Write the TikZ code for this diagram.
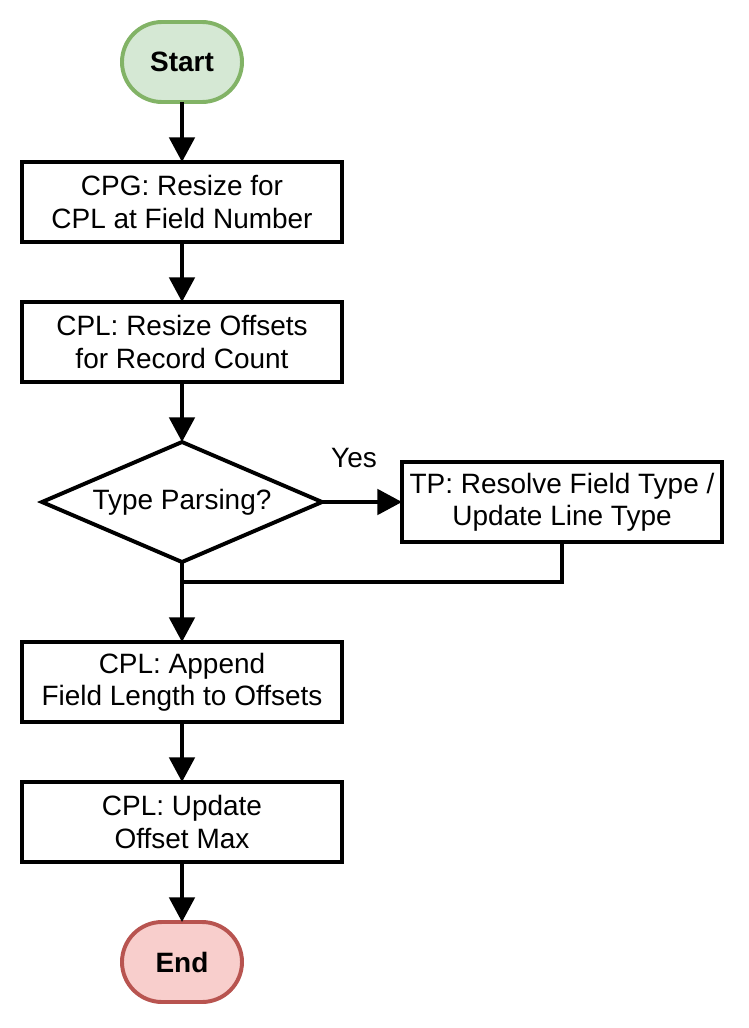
\documentclass[tikz,border=0pt]{standalone}
\usepackage{fontspec}
\setmainfont{Liberation Sans}
\usepackage{tikz}
\usetikzlibrary{arrows.meta,positioning,shapes.geometric,calc}
\definecolor{startfill}{HTML}{D5E8D4}
\definecolor{startline}{HTML}{82B366}
\definecolor{endfill}{HTML}{F8CECC}
\definecolor{endline}{HTML}{B85450}

\begin{document}
\begin{tikzpicture}[
  box/.style={draw, line width=2.8pt, minimum width=8cm, minimum height=2cm,
              inner sep=0pt, outer sep=0pt, align=center,
              font=\fontsize{19.9}{22.8}\selectfont},
  term/.style={draw, line width=2.8pt, rounded corners=1cm, minimum width=3cm,
               minimum height=2cm, inner sep=0pt, outer sep=0pt,
               font=\fontsize{19.9}{22.8}\selectfont\bfseries},
  decision/.style={draw, diamond, line width=2.8pt, aspect=2.333,
                   minimum width=7cm, minimum height=3cm, inner sep=0pt,
                   outer sep=0pt, font=\fontsize{19.9}{22.8}\selectfont},
  arr/.style={-{Triangle[length=17.5pt, width=18pt]}, line width=2.8pt},
  lbl/.style={font=\fontsize{19.9}{22.8}\selectfont},
  node distance=1.5cm and 2cm
]
  \useasboundingbox (0,0) rectangle (18.7,-25.7);

  % Nodes
  \node[term, fill=startfill, draw=startline] (start) at (4.55,-1.55) {Start};
  \node[box, below=of start] (resize)  {CPG: Resize for\\CPL at Field Number};
  \node[box, below=of resize] (offsets) {CPL: Resize Offsets\\for Record Count};
  \node[decision, below=of offsets] (parse) {Type Parsing?};
  \node[box, right=of parse] (tp) {TP: Resolve Field Type /\\Update Line Type};
  \node[box, below=2cm of parse] (append) {CPL: Append\\Field Length to Offsets};
  \node[box, below=of append] (maxoff) {CPL: Update\\Offset Max};
  \node[term, fill=endfill, draw=endline, below=of maxoff] (end) {End};

  % Join point under the decision
  \coordinate (join) at ($(parse.south)+(0,-0.5cm)$);

  % Arrows
  \draw[arr] (start)   -- (resize);
  \draw[arr] (resize)  -- (offsets);
  \draw[arr] (offsets) -- (parse);
  \draw[arr] (parse)   -- (tp);
  \draw[arr] (parse)   -- (append);
  \draw[line width=2.8pt] (tp.south) |- (join);
  \draw[arr] (append)  -- (maxoff);
  \draw[arr] (maxoff)  -- (end);

  % Branch label
  \node[lbl] (yes) at ($(parse.east)+(0.8cm,1.1cm)$) {Yes};
\end{tikzpicture}
\end{document}
